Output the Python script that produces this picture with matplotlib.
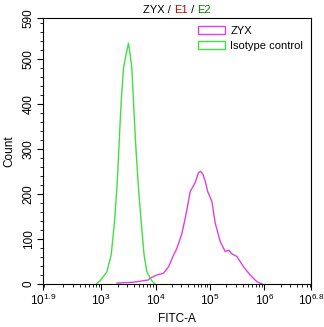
import matplotlib
matplotlib.use("Agg")
import matplotlib.pyplot as plt
from matplotlib.patches import Patch
import numpy as np

plt.rcParams["font.family"] = ["Liberation Sans", "DejaVu Sans"]
plt.rcParams["mathtext.fontset"] = "custom"
plt.rcParams["mathtext.rm"] = "Liberation Sans"
plt.rcParams["mathtext.it"] = "Liberation Sans"

# log10(FITC-A) and counts
iso_x = [2.91, 2.98, 3.105, 3.184, 3.245, 3.289, 3.318, 3.337, 3.368, 3.41, 3.455, 3.502,
         3.535, 3.565, 3.595, 3.626, 3.65, 3.687, 3.736, 3.79, 3.84, 3.933, 3.99]
iso_y = [0, 7, 27, 64, 138, 212, 280, 330, 404, 478, 508, 534,
         508, 478, 404, 330, 280, 212, 138, 64, 27, 7, 0]

zyx_x = [3.29, 3.60, 3.87, 3.90, 4.025, 4.09, 4.147, 4.239, 4.33, 4.393, 4.485, 4.546,
         4.60, 4.638, 4.73, 4.79, 4.83, 4.87, 4.914, 4.96, 5.037, 5.098, 5.19, 5.282, 5.343,
         5.405, 5.497, 5.62, 5.74, 5.866, 5.96]
zyx_y = [2, 4, 9, 13, 20, 22, 24, 38, 64, 79, 112, 146,
         180, 205, 225, 247, 250, 244, 228, 205, 183, 135, 94, 72, 75,
         67, 61, 38, 20, 5, 0]

tick_pos = [1.93, 3, 4, 5, 6, 6.86]
tick_lab = [r"10$^{1.9}$", r"10$^{3}$", r"10$^{4}$", r"10$^{5}$", r"10$^{6}$", r"10$^{6.8}$"]

title_parts = ["ZYX / ", "E1", " / ", "E2"]
title_colors = ["black", "#cc0000", "black", "#008800"]

fig = plt.figure(figsize=(3.24, 3.27), dpi=100)
ax = fig.add_axes([43 / 324, 1 - 284 / 327, 268 / 324, 266 / 327])

ax.plot(zyx_x, zyx_y, color="#e040e0", lw=1)
ax.plot(iso_x, iso_y, color="#40e040", lw=1)

ax.set_xlim(1.93, 6.86)
ax.set_ylim(0, 590)

ax.set_xticks(tick_pos)
ax.set_xticklabels(tick_lab, fontsize=8.5)
minor = []
for d in range(1, 7):
    for m in range(2, 10):
        v = d + np.log10(m)
        if 1.93 < v < 6.86:
            minor.append(v)
ax.set_xticks(minor, minor=True)

ax.set_yticks([0, 100, 200, 300, 400, 500, 590])
ax.set_yticklabels(["0", "100", "200", "300", "400", "500", "590"], rotation=90, va="center",
                   fontsize=8.5)
ax.set_yticks(np.arange(0, 590, 20), minor=True)
ax.tick_params(which="major", length=4, width=0.8, pad=2)
ax.tick_params(which="minor", length=2, width=0.6)

ax.set_xlabel("FITC-A", fontsize=8.5, labelpad=4)
ax.set_ylabel("Count", fontsize=8.5, labelpad=5)

# title in coloured pieces, each one placed right after the previous one
t = fig.text(143 / 324, 1 - 15 / 327, title_parts[0], color=title_colors[0],
             ha="left", va="bottom", fontsize=8)
for part, col in zip(title_parts[1:], title_colors[1:]):
    t = ax.annotate(part, xy=(1, 0), xycoords=t, color=col, fontsize=8,
                    va="bottom", ha="left", annotation_clip=False)

handles = [Patch(facecolor="none", edgecolor="#e040e0", label="ZYX"),
           Patch(facecolor="none", edgecolor="#40e040", label="Isotype control")]
ax.legend(handles=handles, loc="upper right", frameon=False, fontsize=8,
          handlelength=2.4, handleheight=0.7, borderaxespad=0.3, labelspacing=0.45,
          handletextpad=0.5)

fig.savefig("out.png", dpi=100)
